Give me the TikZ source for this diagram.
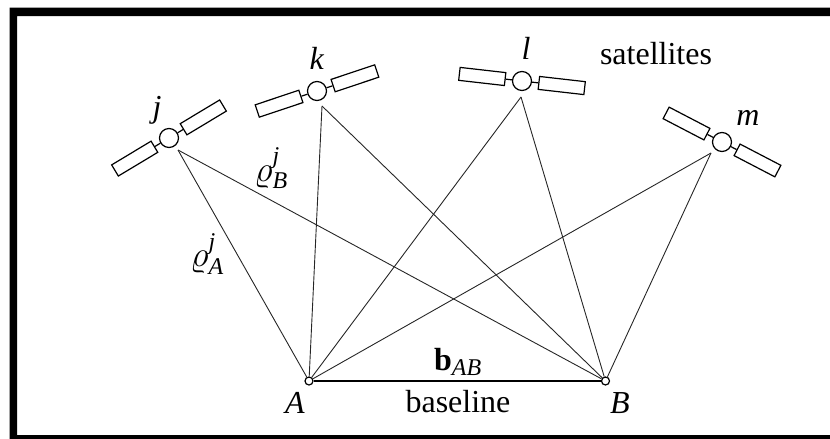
\RequirePackage{fix-cm}
\documentclass[tikz,border=0pt]{standalone}
\usepackage{amsmath}
\usepackage{fontspec}
\setmainfont{Liberation Serif}
\DeclareMathSizes{32}{36}{24}{16}
\newcommand{\sym}[1]{\textit{#1}}
\tikzset{
  sat/.style={draw, circle, line width=1.2pt, fill=white, inner sep=0pt, minimum size=19pt},
  panel/.style={draw, line width=1.2pt, fill=white, inner sep=0pt, minimum width=46pt, minimum height=13pt},
  port/.style={draw, circle, line width=1.2pt, fill=white, inner sep=0pt, minimum size=8pt},
  lbl/.style={inner sep=0pt, font=\fontsize{32}{34}\selectfont},
  ray/.style={line width=0.9pt, black!85},
}
% one satellite: name, centre, angle
\newcommand{\satellite}[3]{
  \node[panel, rotate=#3] (#1l) at ($(#2)+(#3:40pt)$) {};
  \node[panel, rotate=#3] (#1r) at ($(#2)+(#3+180:40pt)$) {};
  \node[sat] (#1) at (#2) {};
  \draw[line width=1.2pt] (#1) -- (#1l);
  \draw[line width=1.2pt] (#1) -- (#1r);
}
\usetikzlibrary{calc}
\begin{document}
\begin{tikzpicture}[x=1pt, y=-1pt]
\useasboundingbox (0,0) rectangle (830,439);
\fill[black] (830,7.5) -- (9.5,7.5) -- (9.5,439) -- (830,439) -- (830,435) -- (17,435) -- (17,16) -- (830,16) -- cycle;

\satellite{j}{169,138}{31}
\satellite{k}{317,91}{18.5}
\satellite{l}{522,81}{-6.5}
\satellite{m}{722,142}{-27.5}

\coordinate (jend) at (178,150);
\coordinate (kend) at (322,106);
\coordinate (lend) at (521,97);
\coordinate (mend) at (711,153);

\node[port] (A) at (309,381) {};
\node[port] (B) at (605.5,381) {};

\draw[ray] (jend) -- (A);
\draw[ray] (jend) -- (B);
\draw[ray] (kend) -- (A);
\draw[ray] (kend) -- (B);
\draw[ray] (lend) -- (A);
\draw[ray] (lend) -- (B);
\draw[ray] (mend) -- (A);
\draw[ray] (mend) -- (B);
\draw[line width=1.4pt] (A) -- (B);

\node[lbl] (jlabel) at (157,110) {\sym{j}};
\node[lbl] (klabel) at (317,58) {\sym{k}};
\node[lbl] (llabel) at (526,48) {\sym{l}};
\node[lbl] (mlabel) at (748,118) {\sym{m}};
\node[lbl] (satlabel) at (656,54) {satellites};
\node[lbl] (rhoB) at (271,168) {$\varrho^{\sym{j}}_{\sym{B}}$};
\node[lbl] (rhoA) at (207,254) {$\varrho^{\sym{j}}_{\sym{A}}$};
\node[lbl] (Alabel) at (295,403) {\sym{A}};
\node[lbl] (Blabel) at (620,403) {\sym{B}};
\node[lbl] (blabel) at (458,362) {$\textbf{b}_{\sym{AB}}$};
\node[lbl] (baselabel) at (458,402) {baseline};
\end{tikzpicture}
\end{document}
